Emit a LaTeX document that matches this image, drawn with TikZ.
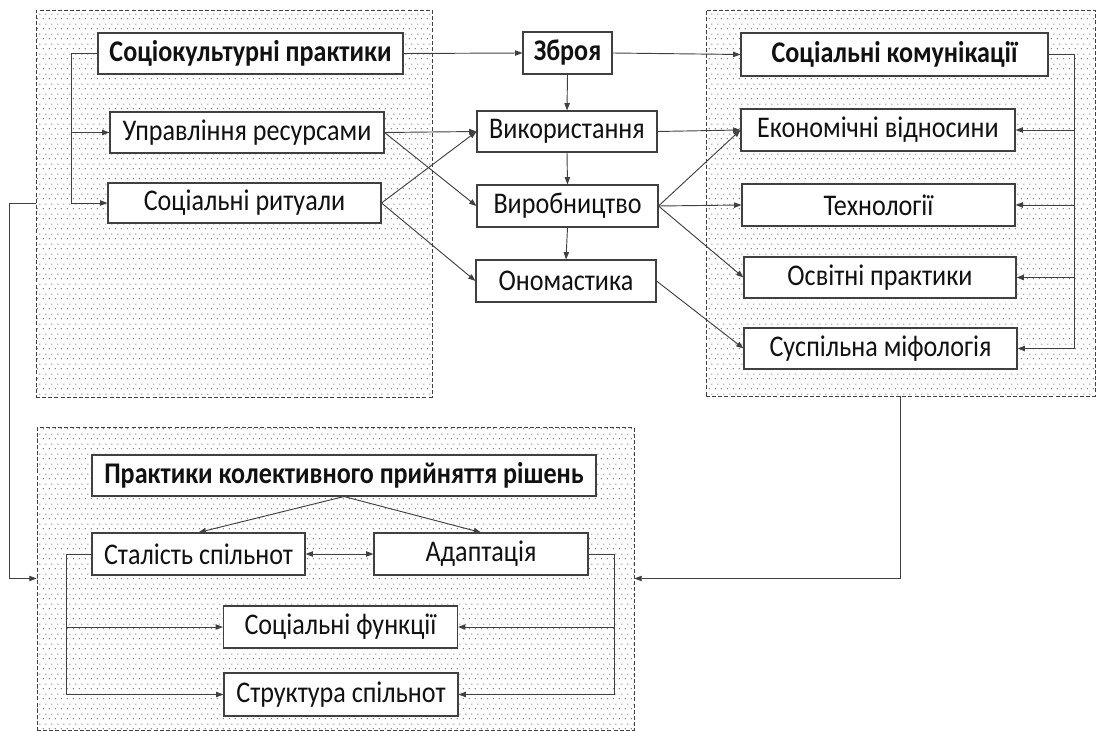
\documentclass[tikz,border=0pt]{standalone}
\usepackage{fontspec}
\setmainfont{Carlito}[FakeStretch=0.87]
\usetikzlibrary{arrows.meta,patterns}
\pgfdeclarepatternformonly{mydots}{\pgfqpoint{0pt}{0pt}}{\pgfqpoint{4.5pt}{7.5pt}}{\pgfqpoint{4.5pt}{7.5pt}}{%
 \pgfpathcircle{\pgfqpoint{1.125pt}{1.875pt}}{0.5pt}%
 \pgfpathcircle{\pgfqpoint{3.375pt}{5.625pt}}{0.5pt}%
 \pgfusepath{fill}}
\definecolor{ln}{HTML}{404040}
\definecolor{tx}{HTML}{111111}
\begin{document}
\begin{tikzpicture}[x=0.75pt,y=-0.75pt,
  sz/.style 2 args={minimum width={#1*0.75pt},minimum height={#2*0.75pt}},
  panel/.style={draw=ln, dash pattern=on 3pt off 1.6pt, line width=0.6pt, pattern=mydots, pattern color=black!65, inner sep=0pt},
  box/.style={draw=ln, fill=white, line width=0.8pt, inner sep=0pt, text=tx, font=\fontsize{22.5}{24}\selectfont},
  hd/.style={box, font=\fontsize{22.5}{24}\selectfont\bfseries},
  arr/.style={draw=ln, line width=0.7pt, -{Triangle[length=5.5pt,width=4pt]}},
  darr/.style={draw=ln, line width=0.7pt, {Triangle[length=5.5pt,width=4pt]}-{Triangle[length=5.5pt,width=4pt]}}
]
\useasboundingbox (0,0) rectangle (1097,731);
% panels
\node[panel, sz={396}{387}] (P1) at (234,203.5) {};
\node[panel, sz={389}{386}] (P2) at (900.5,203) {};
\node[panel, sz={597}{303}] (P3) at (335.5,578.5) {};
% boxes top-left
\node[hd, sz={305}{41}] (sk) at (250.5,53.5) {Соціокультурні практики};
\node[box, sz={274}{41}] (ur) at (247,132.5) {Управління ресурсами};
\node[box, sz={273}{40}] (sr) at (244.5,203) {Соціальні ритуали};
% middle
\node[hd, sz={89}{42}] (zb) at (567.5,53) {Зброя};
\node[box, sz={180}{41}] (vk) at (567,131.5) {Використання};
\node[box, sz={181}{42}] (vr) at (567.5,206) {Виробництво};
\node[box, sz={180}{42}] (on) at (566,281) {Ономастика};
% right
\node[hd, sz={307}{43}] (sc) at (894.5,54.5) {Соціальні комунікації};
\node[box, sz={274}{42}] (ev) at (878,130) {Економічні відносини};
\node[box, sz={273}{42}] (th) at (878.5,205) {Технології};
\node[box, sz={272}{41}] (op) at (880,277.5) {Освітні практики};
\node[box, sz={273}{41}] (sm) at (880.5,348.5) {Суспільна міфологія};
% bottom
\node[hd, sz={504}{41}] (pk) at (344,475.5) {Практики колективного прийняття рішень};
\node[box, sz={213}{42}] (ss) at (198.5,554) {Сталість спільнот};
\node[box, sz={214}{42}] (ad) at (481,554) {Адаптація};
\node[box, sz={234}{42}] (sf) at (340.5,627) {Соціальні функції};
\node[box, sz={234}{43}] (st) at (341,694.5) {Структура спільнот};
% connectors top-left
\draw[arr] (sk.west) -- ++(-26,0) |- (sr.west);
\draw[arr] ([xshift=-26*0.75pt]sk.west) |- (ur.west);
% middle
\draw[arr] (sk.east) -- (zb.west);
\draw[arr] (zb.east) -- (sc.west);
\draw[arr] (zb.south) -- (vk.north);
\draw[arr] (vk.south) -- (vr.north);
\draw[arr] (vr.south) -- (on.north);
\draw[arr] (ur.east) -- (vk.west);
\draw[arr] (ur.east) -- (vr.west);
\draw[arr] (sr.east) -- (vk.west);
\draw[arr] (sr.east) -- (on.west);
\draw[arr] (vk.east) -- (ev.west);
\draw[arr] (vr.east) -- (ev.west);
\draw[arr] (vr.east) -- (th.west);
\draw[arr] (vr.east) -- (op.west);
\draw[arr] (on.east) -- (sm.west);
% right bracket
\draw[arr] (sc.east) -- ++(26,0) |- (sm.east);
\draw[arr] ([xshift=26*0.75pt]sc.east) |- (ev.east);
\draw[arr] ([xshift=26*0.75pt]sc.east) |- (th.east);
\draw[arr] ([xshift=26*0.75pt]sc.east) |- (op.east);
% bottom panel
\draw[arr] (pk.south) -- (ss.north);
\draw[arr] (pk.south) -- (ad.north);
\draw[darr] (ss.east) -- (ad.west);
\draw[arr] (ss.west) -- ++(-25,0) |- (st.west);
\draw[arr] ([xshift=-25*0.75pt]ss.west) |- (sf.west);
\draw[arr] (ad.east) -- ++(26,0) |- (st.east);
\draw[arr] ([xshift=26*0.75pt]ad.east) |- (sf.east);
% between panels
\draw[arr] (P1.west) -- ++(-26,0) |- (P3.west);
\draw[arr] (P2.south) |- (P3.east);
\end{tikzpicture}
\end{document}
